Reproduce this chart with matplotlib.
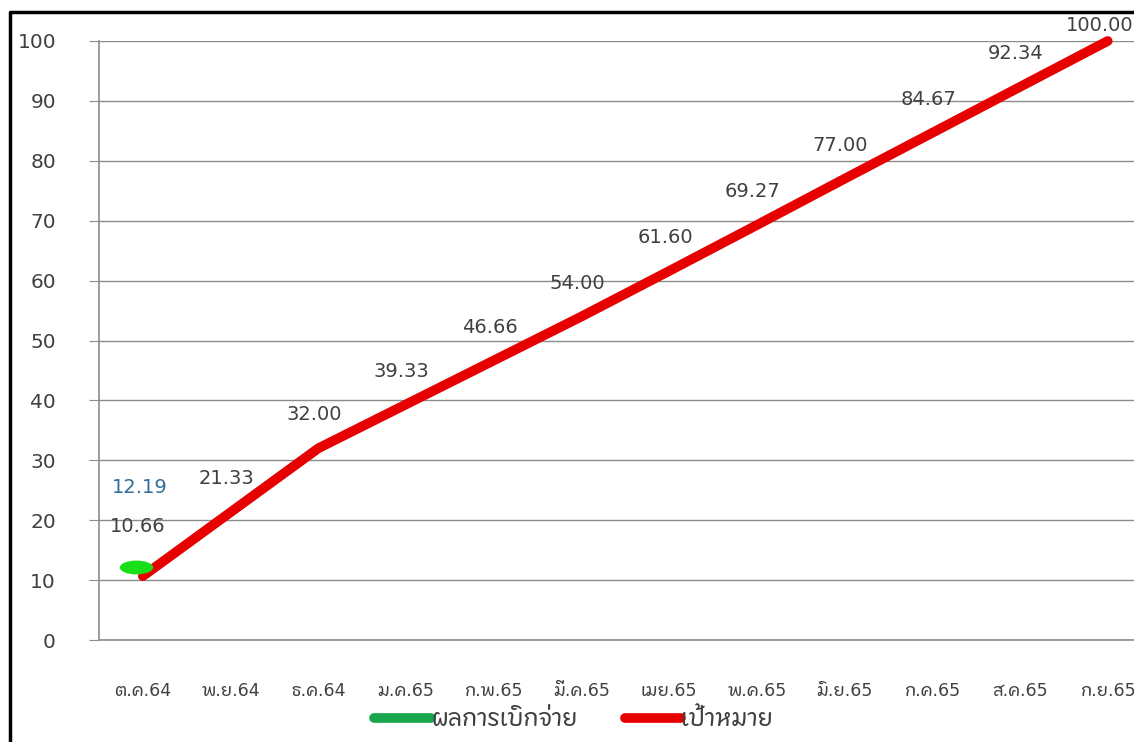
import matplotlib
matplotlib.use('Agg')
import matplotlib.pyplot as plt
from matplotlib import font_manager
from matplotlib.ft2font import FT2Font
from matplotlib.lines import Line2D
from matplotlib.path import Path
from matplotlib.transforms import Affine2D, ScaledTranslation

months = ['ต.ค.64', 'พ.ย.64', 'ธ.ค.64', 'ม.ค.65', 'ก.พ.65', 'มี.ค.65',
          'เมย.65', 'พ.ค.65', 'มิ.ย.65', 'ก.ค.65', 'ส.ค.65', 'ก.ย.65']
target = [10.66, 21.33, 32.00, 39.33, 46.66, 54.00,
          61.60, 69.27, 77.00, 84.67, 92.34, 100.00]
actual = [12.19]
series_names = ['ผลการเบิกจ่าย', 'เป้าหมาย']

# find a font that can draw Thai (prefer a loopless sans)
thai_candidates = []
for f in font_manager.fontManager.ttflist:
    try:
        if 0x0E01 in FT2Font(f.fname).get_charmap():
            score = ('Sans' in f.name) * 2 + ('Looped' not in f.name)
            thai_candidates.append((score, f.name))
    except Exception:
        pass
thai_candidates.sort(reverse=True)

families = ['DejaVu Sans']
if thai_candidates:
    families.append(thai_candidates[0][1])
plt.rcParams['font.family'] = families

text_col = '#404040'
grid_col = '#8c8c8c'

fig = plt.figure(figsize=(11.34, 7.42), dpi=100)
ax = fig.add_axes([99 / 1134, 1 - 640 / 742, 1 - 99 / 1134, (640 - 41) / 742])

x = list(range(len(months)))
ax.plot(x, target, color='#e60000', lw=7, solid_capstyle='round', clip_on=False, zorder=3)

# flat ellipse marker like the original, nudged a little left
ellipse = Path.unit_circle().transformed(Affine2D().scale(2.4, 1.0))
shift = ScaledTranslation(-5 / 72, 0, fig.dpi_scale_trans)
ax.plot(x[:len(actual)], actual, linestyle='none', marker=ellipse, markersize=24,
        color='#18e018', markeredgewidth=0, zorder=3, transform=ax.transData + shift)

for xi, v in zip(x, target):
    if xi == 0:
        off = (-4, 36)
    elif xi == len(x) - 1:
        off = (-6, 11)
    else:
        off = (-3, 24)
    ax.annotate(f'{v:.2f}', (xi, v), xytext=off, textcoords='offset points',
                ha='center', va='center', fontsize=14, color=text_col,
                annotation_clip=False)
for xi, v in zip(x, actual):
    ax.annotate(f'{v:.2f}', (xi, v), xytext=(-2, 57), textcoords='offset points',
                ha='center', va='center', fontsize=14, color='#2f6f99',
                annotation_clip=False)

ax.set_xlim(-0.5, 11.3)
ax.set_ylim(0, 100)
ax.set_yticks(range(0, 101, 10))
ax.set_xticks(x)
ax.set_xticklabels(months, fontsize=12.5, color=text_col)
ax.tick_params(axis='y', length=7, color=grid_col, pad=24, labelsize=14.5, labelcolor=text_col)
ax.tick_params(axis='x', length=0, pad=30)
ax.grid(axis='y', color=grid_col, lw=1)
ax.set_axisbelow(True)
for s in ['top', 'right']:
    ax.spines[s].set_visible(False)
for s in ['left', 'bottom']:
    ax.spines[s].set_color(grid_col)
    ax.spines[s].set_linewidth(1.2)

handles = [Line2D([], [], color='#1aa64a', lw=7, solid_capstyle='round'),
           Line2D([], [], color='#e60000', lw=7, solid_capstyle='round')]
fig.legend(handles, series_names, loc='center', bbox_to_anchor=(0.506, 0.031),
           ncol=2, frameon=False, fontsize=17, handlelength=2.4, handletextpad=0.0,
           columnspacing=2.0, labelcolor=text_col)

# outer border of the chart (left and top edges visible)
fig.add_artist(Line2D([10 / 1134, 10 / 1134, 1], [0, 1 - 12 / 742, 1 - 12 / 742],
                      transform=fig.transFigure, color='black', lw=2.5))

fig.savefig('out.png', dpi=100)
